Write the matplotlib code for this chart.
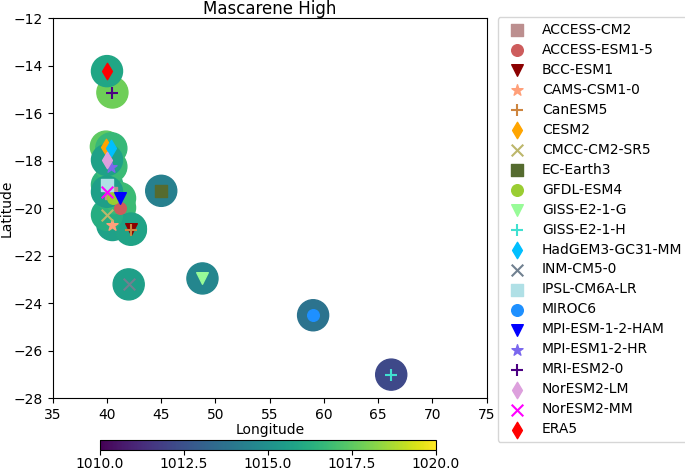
import numpy as np
import matplotlib
matplotlib.use("Agg")
import matplotlib.pyplot as plt

# model names, marker style and colour (legend order)
models = ["ACCESS-CM2", "ACCESS-ESM1-5", "BCC-ESM1", "CAMS-CSM1-0", "CanESM5",
          "CESM2", "CMCC-CM2-SR5", "EC-Earth3", "GFDL-ESM4", "GISS-E2-1-G",
          "GISS-E2-1-H", "HadGEM3-GC31-MM", "INM-CM5-0", "IPSL-CM6A-LR", "MIROC6",
          "MPI-ESM-1-2-HAM", "MPI-ESM1-2-HR", "MRI-ESM2-0", "NorESM2-LM",
          "NorESM2-MM", "ERA5"]
markers = ["s", "o", "v", "*", "+", "d", "x", "s", "o", "v",
           "+", "d", "x", "s", "o", "v", "*", "+", "d", "x", "d"]
colors = ["rosybrown", "indianred", "darkred", "lightsalmon", "peru",
          "orange", "darkkhaki", "darkolivegreen", "yellowgreen", "palegreen",
          "turquoise", "deepskyblue", "slategray", "powderblue", "dodgerblue",
          "blue", "mediumslateblue", "indigo", "plum", "magenta", "red"]

# position of the high (lon, lat) and central pressure (hPa)
lon = [40.4, 41.2, 42.2, 40.5, 42.2, 39.9, 40.0, 45.0, 40.6, 48.8,
       66.2, 40.4, 42.0, 40.0, 59.0, 41.2, 40.4, 40.5, 40.0, 40.0, 40.0]
lat = [-19.36, -19.97, -20.85, -20.7, -20.9, -17.4, -20.27, -19.26, -19.57, -22.95,
       -27.0, -17.47, -23.2, -19.0, -24.5, -19.57, -18.24, -15.12, -17.96, -19.3, -14.22]
pres = [1016.0, 1016.8, 1015.8, 1015.7, 1015.8, 1017.5, 1016.2, 1014.3, 1016.6, 1014.6,
        1012.2, 1016.7, 1015.6, 1016.5, 1013.8, 1016.8, 1016.8, 1017.8, 1015.7, 1015.6, 1015.9]

fig = plt.figure(figsize=(6.85, 4.72), dpi=100)
ax = fig.add_axes([0.077, 0.156, 0.6335, 0.805])

sc = ax.scatter(lon, lat, c=pres, s=500, cmap="viridis", vmin=1010, vmax=1020)
for i in range(len(models)):
    lw = 1.5 if markers[i] in ("+", "x") else None
    ax.scatter(lon[i], lat[i], marker=markers[i], color=colors[i], s=70,
               linewidths=lw, label=models[i])

ax.set_xlim(35, 75)
ax.set_ylim(-28, -12)
ax.set_xlabel("Longitude", fontsize=10, labelpad=1)
ax.set_ylabel("Latitude", fontsize=10, labelpad=0)
ax.set_title("Mascarene High", fontsize=12, pad=3)
ax.tick_params(labelsize=10)

ax.legend(loc="upper left", bbox_to_anchor=(1.025, 1.003), fontsize=10,
          borderaxespad=0, labelspacing=0.43)

# colorbar sits a touch higher so its tick labels fit in the figure
cax = fig.add_axes([0.146, 0.046, 0.49, 0.0225])
cb = fig.colorbar(sc, cax=cax, orientation="horizontal")
cb.set_ticks([1010.0, 1012.5, 1015.0, 1017.5, 1020.0])
cb.ax.xaxis.set_major_formatter(matplotlib.ticker.FormatStrFormatter("%.1f"))
cb.ax.tick_params(labelsize=10, pad=1.5)

fig.savefig("out.png", dpi=100)
